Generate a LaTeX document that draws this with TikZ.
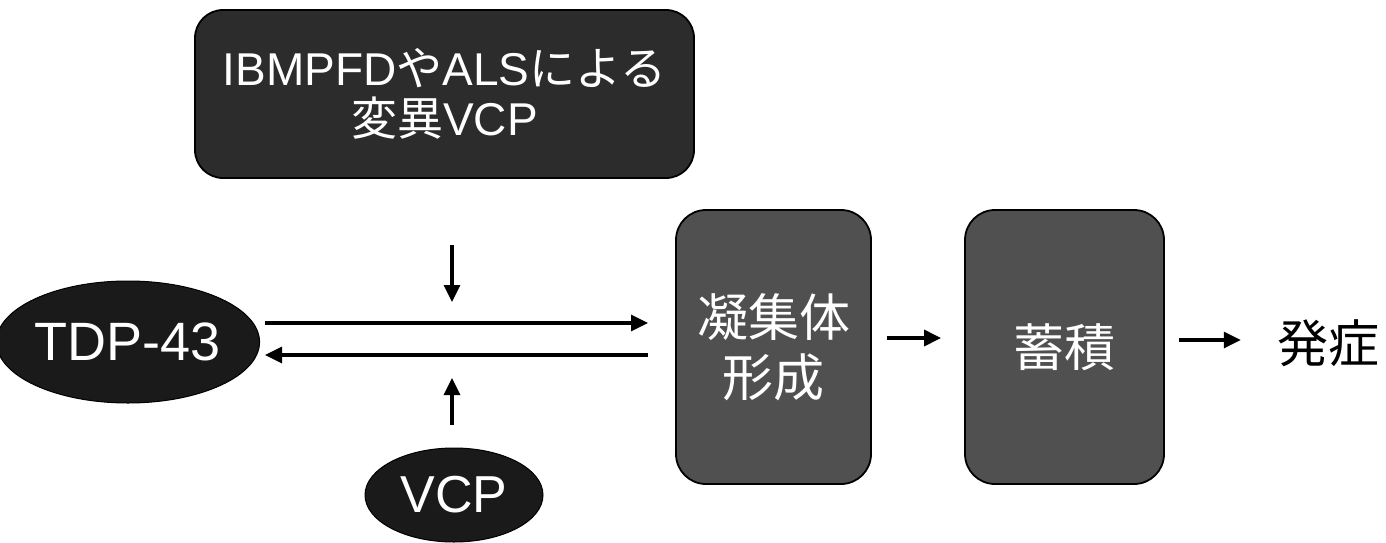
\documentclass[tikz,border=0pt]{standalone}
\usepackage{fontspec}
\setmainfont{Liberation Sans}
\newfontfamily\jp{Noto Sans CJK JP}
\usetikzlibrary{shapes.geometric,arrows.meta}
\definecolor{topfill}{HTML}{2C2C2C}
\definecolor{ellfill}{HTML}{1A1A1A}
\definecolor{midfill}{HTML}{505050}
\begin{document}
\begin{tikzpicture}[x=1pt,y=-1pt,
  roundbox/.style={draw=black, line width=1.8pt, rounded corners=28pt, text=white, inner sep=0pt, align=center},
  darkell/.style={ellipse, draw=black, line width=1pt, fill=ellfill, text=white, inner sep=0pt},
  arr/.style={line width=3.2pt, -{Triangle[length=17pt,width=16pt]}}]
\useasboundingbox (0,0) rectangle (1386,543);
% nodes
\node[roundbox, fill=topfill, minimum width=499pt, minimum height=168pt,
      font=\fontsize{46}{50}\selectfont] (top) at (444.5,94)
      {IBMPFD{\jp や}ALS{\jp による}\\{\jp 変異}VCP};
\node[darkell, minimum width=226pt, minimum height=122pt,
      font=\fontsize{54}{60}\selectfont] (tdp) at (128,342) {TDP-43};
\node[darkell, minimum width=178pt, minimum height=94pt,
      font=\fontsize{52}{58}\selectfont] (vcp) at (454,495) {VCP};
\node[roundbox, fill=midfill, minimum width=195pt, minimum height=274pt, rounded corners=30pt,
      font=\jp\fontsize{51}{60}\selectfont] (agg) at (773.5,347) {凝集体\\形成};
\node[roundbox, fill=midfill, minimum width=199pt, minimum height=274pt, rounded corners=30pt,
      font=\jp\fontsize{51}{60}\selectfont] (acc) at (1064.5,347) {蓄積};
\node[inner sep=0pt, font=\jp\fontsize{51}{60}\selectfont] (onset) at (1328,343) {発症};
% free ends
\coordinate (f1) at (265,323);
\coordinate (f2) at (648,323);
\coordinate (b1) at (648,355);
\coordinate (b2) at (265,355);
\coordinate (d1) at (452,245);
\coordinate (d2) at (452,302);
\coordinate (u1) at (452,425);
\coordinate (u2) at (452,378);
% connectors
\draw[arr] (f1) -- (f2);
\draw[arr] (b1) -- (b2);
\draw[arr] (d1) -- (d2);
\draw[arr] (u1) -- (u2);
\draw[arr] ([xshift=15pt,yshift=9pt]agg.east) -- ([xshift=-23pt,yshift=9pt]acc.west);
\draw[arr] ([xshift=14pt,yshift=7pt]acc.east) -- ([xshift=-36pt,yshift=3pt]onset.west);
\end{tikzpicture}
\end{document}
